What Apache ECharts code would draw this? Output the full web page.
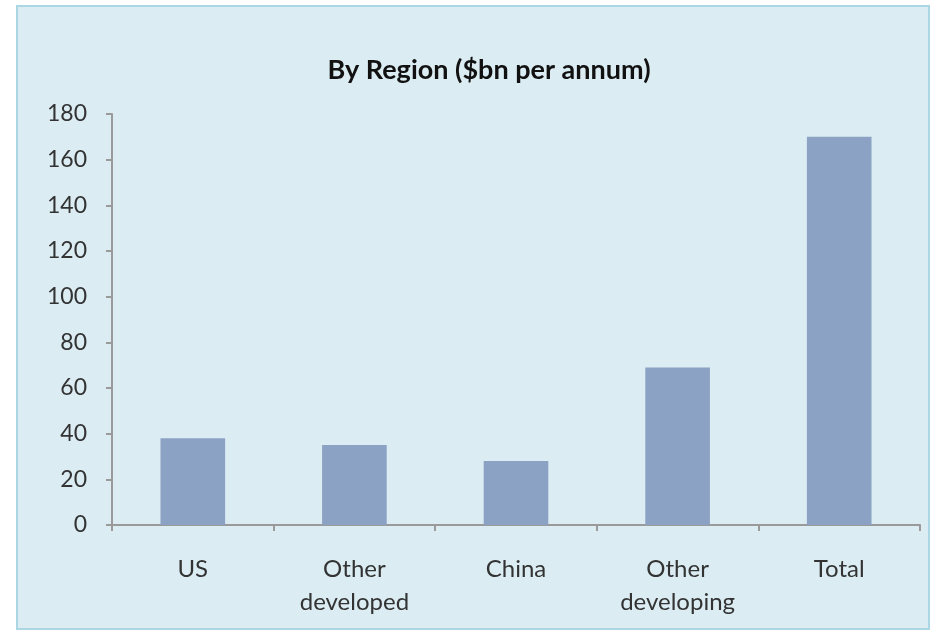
<!DOCTYPE html>
<html>
<head>
<meta charset="utf-8">
<script src="https://cdn.jsdelivr.net/npm/echarts@6/dist/echarts.min.js"></script>
<style>
  html, body { margin: 0; padding: 0; background: #ffffff; }
  #chart { width: 932px; height: 632px; }
</style>
</head>
<body>
<div id="chart"></div>
<script>
// Annual amounts by region, $bn
const categories = ['US', 'Other\ndeveloped', 'China', 'Other\ndeveloping', 'Total'];
const values = [38, 35, 28, 69, 170];
const yTicks = { min: 0, max: 180, interval: 20 };

const FONT = 'Lato, "Open Sans", sans-serif';
const chart = echarts.init(document.getElementById('chart'));

chart.setOption({
  animation: false,
  backgroundColor: '#ffffff',
  graphic: [{
    type: 'rect',
    shape: { x: 17, y: 6, width: 912, height: 623 },
    style: { fill: '#DBEDF3', stroke: '#ABD6E4', lineWidth: 2 },
    z: -10
  }],
  title: {
    text: 'By Region ($bn per annum)',
    left: 484,
    top: 52,
    textAlign: 'center',
    textStyle: { fontFamily: FONT, fontSize: 27, fontWeight: 'bold', color: '#111111' }
  },
  grid: { left: 112, right: 12, top: 114, bottom: 107, containLabel: false },
  xAxis: {
    type: 'category',
    data: categories,
    axisLine: { lineStyle: { color: '#9a9a9a', width: 2 } },
    axisTick: { show: true, length: 6, alignWithLabel: false, lineStyle: { color: '#9a9a9a', width: 2 } },
    axisLabel: {
      fontFamily: FONT, fontSize: 24, color: '#333333',
      margin: 28, lineHeight: 33, interval: 0
    },
    splitLine: { show: false }
  },
  yAxis: {
    type: 'value',
    min: yTicks.min,
    max: yTicks.max,
    interval: yTicks.interval,
    axisLine: { show: true, lineStyle: { color: '#9a9a9a', width: 2 } },
    axisTick: { show: true, length: 6, lineStyle: { color: '#9a9a9a', width: 2 } },
    axisLabel: { fontFamily: FONT, fontSize: 23, color: '#333333', margin: 25 },
    splitLine: { show: false }
  },
  series: [{
    type: 'bar',
    data: values,
    barWidth: '40%',
    itemStyle: { color: '#8CA2C4' }
  }]
});
</script>
</body>
</html>
